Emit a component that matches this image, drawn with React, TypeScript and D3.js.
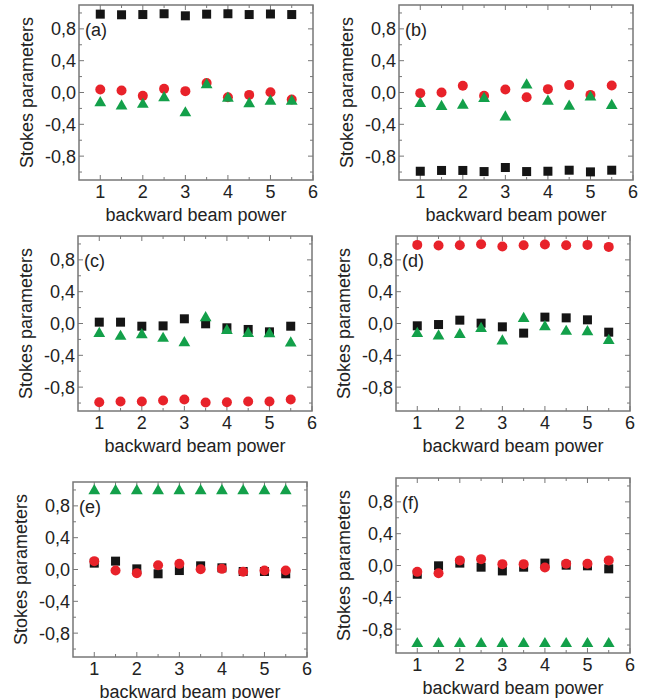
import * as d3 from 'd3';

// backward beam power (x positions shared by every panel)
const power = [1, 1.5, 2, 2.5, 3, 3.5, 4, 4.5, 5, 5.5];

// Stokes parameters: S1 black squares, S2 red circles, S3 green triangles
const aS1 = [0.985, 0.977, 0.98, 0.99, 0.964, 0.985, 0.99, 0.98, 0.987, 0.98];
const aS2 = [0.038, 0.025, -0.042, 0.046, 0.017, 0.118, -0.059, -0.03, 0.004, -0.088];
const aS3 = [-0.13, -0.17, -0.15, -0.067, -0.257, 0.097, -0.072, -0.143, -0.11, -0.11];

const bS1 = [-0.99, -0.98, -0.98, -0.994, -0.943, -0.994, -0.99, -0.977, -0.998, -0.977];
const bS2 = [-0.008, 0, 0.084, -0.042, 0.038, -0.059, 0.042, 0.093, -0.03, 0.088];
const bS3 = [-0.139, -0.177, -0.16, -0.076, -0.31, 0.093, -0.11, -0.173, -0.059, -0.164];

const cS1 = [0.017, 0.017, -0.034, -0.03, 0.059, -0.004, -0.054, -0.075, -0.105, -0.034];
const cS2 = [-0.99, -0.98, -0.98, -0.968, -0.955, -0.993, -0.99, -0.98, -0.98, -0.955];
const cS3 = [-0.126, -0.163, -0.142, -0.188, -0.243, 0.071, -0.088, -0.126, -0.13, -0.247];

const dS1 = [-0.029, -0.013, 0.042, 0.004, -0.042, -0.121, 0.08, 0.071, 0.046, -0.109];
const dS2 = [0.988, 0.98, 0.984, 0.997, 0.968, 0.984, 0.993, 0.984, 0.988, 0.963];
const dS3 = [-0.126, -0.159, -0.138, -0.063, -0.222, 0.063, -0.042, -0.1, -0.105, -0.214];

const eS1 = [0.08, 0.105, 0.008, -0.054, -0.013, 0.046, 0.021, -0.025, -0.025, -0.054];
const eS2 = [0.105, -0.013, -0.046, 0.054, 0.071, 0.004, 0.008, -0.029, -0.013, -0.013];
const eS3 = [0.99, 0.99, 0.99, 0.99, 0.99, 0.99, 0.99, 0.99, 0.99, 0.99];

const fS1 = [-0.11, -0.004, 0.03, -0.021, -0.068, -0.021, 0.03, 0.004, -0.004, -0.042];
const fS2 = [-0.08, -0.097, 0.064, 0.08, 0.017, 0.017, -0.025, 0.021, 0.021, 0.064];
const fS3 = [-0.983, -0.983, -0.983, -0.983, -0.983, -0.983, -0.983, -0.983, -0.983, -0.983];

const xMajor = [1, 2, 3, 4, 5, 6];
const xMinor = [1.5, 2.5, 3.5, 4.5, 5.5];
const yMajor = [0.8, 0.4, 0, -0.4, -0.8];
const yMinor = [1, 0.6, 0.2, -0.2, -0.6, -1];

const panels = [
  { label: '(a)', left: 79, top: 5, s1: aS1, s2: aS2, s3: aS3 },
  { label: '(b)', left: 399, top: 5, s1: bS1, s2: bS2, s3: bS3 },
  { label: '(c)', left: 78, top: 236, s1: cS1, s2: cS2, s3: cS3 },
  { label: '(d)', left: 396, top: 236, s1: dS1, s2: dS2, s3: dS3 },
  { label: '(e)', left: 73, top: 482, s1: eS1, s2: eS2, s3: eS3 },
  { label: '(f)', left: 396, top: 478, s1: fS1, s2: fS2, s3: fS3 },
];

const W = 234;
const H = 175;
const font = 'Arial, "Liberation Sans", sans-serif';
const frameColor = '#777';
const textColor = '#222';

const triangle = d3.symbol().type(d3.symbolTriangle).size(60);

type PanelProps = (typeof panels)[number];

const Panel = ({ label, left, top, s1, s2, s3 }: PanelProps) => {
  const x = d3.scaleLinear().domain([0.5, 6]).range([0, W]);
  const y = d3.scaleLinear().domain([-1.1, 1.1]).range([H, 0]);
  const fmt = (v: number) => d3.format('.1f')(v).replace('.', ',').replace('−', '-');

  return (
    <g transform={`translate(${left},${top})`}>
      {/* ticks point inward on all four sides */}
      {xMajor.map((t) => (
        <g key={'xM' + t} stroke={frameColor} strokeWidth={1}>
          <line x1={x(t)} x2={x(t)} y1={H} y2={H - 5} />
          <line x1={x(t)} x2={x(t)} y1={0} y2={5} />
        </g>
      ))}
      {xMinor.map((t) => (
        <g key={'xm' + t} stroke={frameColor} strokeWidth={1}>
          <line x1={x(t)} x2={x(t)} y1={H} y2={H - 3} />
          <line x1={x(t)} x2={x(t)} y1={0} y2={3} />
        </g>
      ))}
      {yMajor.map((t) => (
        <g key={'yM' + t} stroke={frameColor} strokeWidth={1}>
          <line x1={0} x2={5} y1={y(t)} y2={y(t)} />
          <line x1={W} x2={W - 5} y1={y(t)} y2={y(t)} />
        </g>
      ))}
      {yMinor.map((t) => (
        <g key={'ym' + t} stroke={frameColor} strokeWidth={1}>
          <line x1={0} x2={3} y1={y(t)} y2={y(t)} />
          <line x1={W} x2={W - 3} y1={y(t)} y2={y(t)} />
        </g>
      ))}
      <rect x={0} y={0} width={W} height={H} fill="none" stroke={frameColor} strokeWidth={1.5} />

      {xMajor.map((t) => (
        <text key={'xl' + t} x={x(t)} y={H + 18} textAnchor="middle" fontSize={18} fill={textColor} fontFamily={font}>
          {t}
        </text>
      ))}
      {yMajor.map((t) => (
        <text key={'yl' + t} x={-3} y={y(t)} dy="0.36em" textAnchor="end" fontSize={18} fill={textColor} fontFamily={font}>
          {fmt(t)}
        </text>
      ))}
      <text x={W / 2} y={H + 41} textAnchor="middle" fontSize={18} fill={textColor} fontFamily={font}>
        backward beam power
      </text>
      <text
        transform={`translate(-46,${H / 2}) rotate(-90)`}
        textAnchor="middle"
        fontSize={18}
        fill={textColor}
        fontFamily={font}
      >
        Stokes parameters
      </text>
      <text x={6} y={31} fontSize={18} fill={textColor} fontFamily={font}>
        {label}
      </text>

      {s1.map((v, i) => (
        <rect key={'s1' + i} x={x(power[i]) - 4.5} y={y(v) - 4.5} width={9} height={9} fill="#151515" />
      ))}
      {s2.map((v, i) => (
        <circle key={'s2' + i} cx={x(power[i])} cy={y(v)} r={5} fill="#e8222a" />
      ))}
      {s3.map((v, i) => (
        <path key={'s3' + i} d={triangle() ?? ''} transform={`translate(${x(power[i])},${y(v)})`} fill="#13a04a" />
      ))}
    </g>
  );
};

const App = () => (
  <svg width={649} height={699} style={{ position: 'absolute', left: 0, top: 0, background: '#fff' }}>
    {panels.map((p) => (
      <Panel key={p.label} {...p} />
    ))}
  </svg>
);

export default App;
